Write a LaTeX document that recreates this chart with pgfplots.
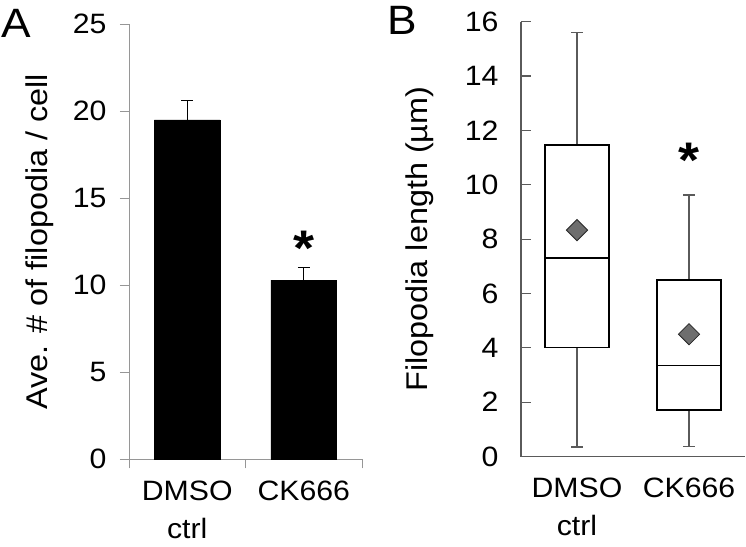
\documentclass[border=0pt]{standalone}
\usepackage{fontspec}
\setmainfont{Liberation Sans}[FakeStretch=1.08]
\usepackage{pgfplots}
\pgfplotsset{compat=1.18}
\usepgfplotslibrary{statistics}
\definecolor{axA}{RGB}{150,150,150}
\definecolor{axB}{RGB}{90,90,90}
\definecolor{dia}{RGB}{110,110,110}
\begin{document}
\begin{tikzpicture}[x=1pt,y=1pt]
\useasboundingbox (0,0) rectangle (746,546);
\node[anchor=base west,inner sep=0,font=\fontsize{41}{41}\selectfont] at (1,508) {A};
\node[anchor=base west,inner sep=0,font=\fontsize{41}{41}\selectfont] at (387,511) {B};
% Panel A
\begin{axis}[
  at={(129pt,86.7pt)}, anchor=south west,
  scale only axis, width=233pt, height=435pt,
  xmin=-0.5, xmax=1.5, ymin=0, ymax=25,
  axis x line*=bottom, axis y line*=left,
  axis line style={draw=axA, line width=0.8pt},
  x axis line style={shorten <=-9pt},
  every tick/.style={draw=axA, line width=0.8pt},
  tick align=outside, major tick length=9pt,
  /pgf/number format/assume math mode=true,
  ytick={0,5,10,15,20,25},
  yticklabel style={font=\fontsize{28}{34}\selectfont, xshift=-10pt},
  xtick={-0.5,0.5,1.5}, xticklabels={,,},
  extra x ticks={0,1},
  extra x tick labels={{DMSO\\ctrl},{CK666}},
  extra x tick style={major tick length=0pt},
  xticklabel style={font=\fontsize{28}{38}\selectfont, align=center, yshift=-18pt},
  ylabel={Ave. \# of filopodia / cell},
  every axis y label/.style={at={(axis description cs:-0.382,0.5)}, rotate=90, anchor=center, font=\fontsize{30}{36}\selectfont},
]
\addplot[ybar, bar width=0.564, fill=black, draw=black,
  error bars/.cd, y dir=plus, y explicit,
  error bar style={line width=1.2pt, black},
  error mark options={rotate=90, mark size=6pt, line width=1.2pt, black}]
  coordinates {(0,19.5) +- (0,1.1) (1,10.3) +- (0,0.7)};
\node[font=\bfseries\fontsize{50}{50}\selectfont, inner sep=0] at (axis cs:1,12.1) {*};
\end{axis}
% Panel B
\begin{axis}[
  at={(521pt,89.5pt)}, anchor=south west,
  scale only axis, width=224pt, height=434.8pt,
  xmin=-0.5, xmax=1.5, ymin=0, ymax=16,
  axis x line*=bottom, axis y line*=left,
  axis line style={draw=axB, line width=1.1pt},
  every tick/.style={draw=axB, line width=1.1pt},
  tick align=inside, major tick length=10pt,
  /pgf/number format/assume math mode=true,
  ytick={0,2,...,16},
  yticklabel style={font=\fontsize{28}{34}\selectfont, xshift=-19pt},
  xtick={0,1}, xticklabels={{DMSO\\ctrl},{CK666}},
  xtick style={draw=none},
  xticklabel style={font=\fontsize{28}{38}\selectfont, align=center, yshift=-18pt},
  ylabel={Filopodia length (µm)},
  every axis y label/.style={at={(axis description cs:-0.451,0.5)}, rotate=90, anchor=center, font=\fontsize{30}{36}\selectfont},
  boxplot/draw direction=y,
  boxplot/every whisker/.style={draw=axB, line width=1.2pt},
  boxplot/every median/.style={draw=black, line width=1.4pt},
  boxplot/every box/.style={draw=black, line width=1.4pt, fill=white},
]
\addplot[boxplot prepared={draw position=0, lower whisker=0.35, lower quartile=4.0, median=7.3, upper quartile=11.46, upper whisker=15.6, box extend=0.57, whisker extend=0.107}, draw=black, solid, line width=1.4pt]
  coordinates {};
\addplot[boxplot prepared={draw position=1, lower whisker=0.36, lower quartile=1.71, median=3.34, upper quartile=6.5, upper whisker=9.62, box extend=0.57, whisker extend=0.107}, draw=black, solid, line width=1.4pt]
  coordinates {};
\addplot[only marks, mark=square*, mark size=7.5pt, mark options={rotate=45, fill=dia, draw=black!85, line width=0.8pt}]
  coordinates {(0,8.33) (1,4.5)};
\node[font=\bfseries\fontsize{50}{50}\selectfont, inner sep=0] at (axis cs:1,10.9) {*};
\end{axis}
\end{tikzpicture}
\end{document}
